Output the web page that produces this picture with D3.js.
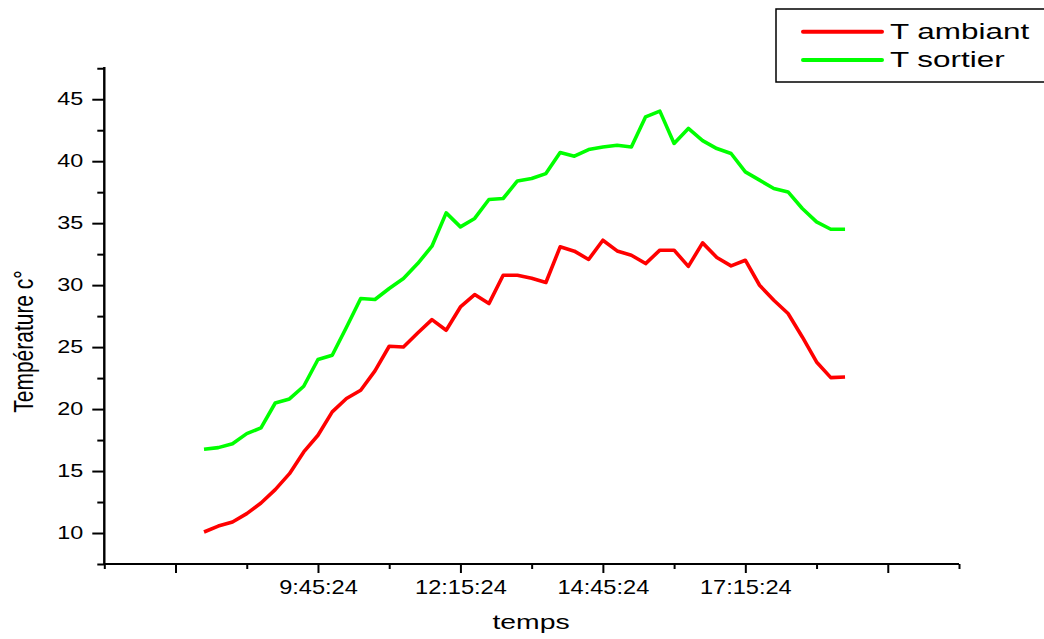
<!DOCTYPE html>
<html>
<head>
<meta charset="utf-8">
<script src="https://cdn.jsdelivr.net/npm/d3@7"></script>
<style>
  html, body { margin: 0; padding: 0; background: #fff; }
  svg { display: block; font-family: "Liberation Sans", Arial, sans-serif; }
</style>
</head>
<body>
<svg id="chart" width="1044" height="639"></svg>
<script>
// ---- data ----
const times = ["7:45:24","8:00:24","8:15:24","8:30:24","8:45:24","9:00:24","9:15:24","9:30:24","9:45:24","10:00:24",
  "10:15:24","10:30:24","10:45:24","11:00:24","11:15:24","11:30:24","11:45:24","12:00:24","12:15:24","12:30:24",
  "12:45:24","13:00:24","13:15:24","13:30:24","13:45:24","14:00:24","14:15:24","14:30:24","14:45:24","15:00:24",
  "15:15:24","15:30:24","15:45:24","16:00:24","16:15:24","16:30:24","16:45:24","17:00:24","17:15:24","17:30:24",
  "17:45:24","18:00:24","18:15:24","18:30:24","18:45:24","19:00:24"];
const tAmbiant = [10.08,10.56,10.89,11.56,12.42,13.5,14.79,16.54,17.89,19.77,
  20.85,21.52,23.08,25.07,25.01,26.14,27.22,26.36,28.24,29.24,
  28.51,30.8,30.8,30.55,30.21,33.09,32.74,32.07,33.62,32.76,
  32.41,31.74,32.82,32.82,31.51,33.41,32.23,31.55,32.01,29.99,
  28.78,27.71,25.82,23.8,22.54,22.59];
const tSortier = [16.76,16.89,17.21,18.02,18.48,20.49,20.82,21.84,24.0,24.34,
  26.6,28.92,28.84,29.73,30.53,31.74,33.14,35.83,34.7,35.38,
  36.91,36.99,38.41,38.6,39.0,40.7,40.4,40.94,41.15,41.29,
  41.15,43.58,44.04,41.43,42.64,41.66,41.02,40.62,39.14,38.47,
  37.8,37.52,36.18,35.1,34.51,34.51];
const xMajorTicks = ["7:15:24","9:45:24","12:15:24","14:45:24","17:15:24","19:45:24"];
const xMinorTicks = ["6:00:24","8:30:24","11:00:24","13:30:24","16:00:24","18:30:24","21:00:24"];
const xDomain = ["6:00:24","21:00:24"];
const yMajorTicks = [10,15,20,25,30,35,40,45];
const yMinorTicks = [7.5,12.5,17.5,22.5,27.5,32.5,37.5,42.5,47.5];
const yDomain = [7.5, 47.6];
const seriesNames = ["T ambiant","T sortier"];
const seriesColors = ["#ff0000","#00ff00"];
const xTitle = "temps";
const yTitle = "Température c°";

// ---- helpers ----
const toMin = s => { const p = s.split(":").map(Number); return p[0]*60 + p[1] + p[2]/60; };

const svg = d3.select("#chart");
const x = d3.scaleLinear().domain(xDomain.map(toMin)).range([104.3, 959]);
const y = d3.scaleLinear().domain(yDomain).range([564, 67]);

const firstT = toMin(times[0]), lastT = toMin(times[times.length-1]);

// ---- x axis ----
const gx = svg.append("g").attr("transform", "translate(0,564)");
gx.append("g").call(d3.axisBottom(x).tickValues(xMinorTicks.map(toMin)).tickSize(5).tickFormat(""));
const xMajorMap = new Map(xMajorTicks.map(s => [toMin(s), s]));
gx.append("g").call(d3.axisBottom(x).tickValues(xMajorTicks.map(toMin)).tickSize(9)
    .tickFormat(v => (v >= firstT && v <= lastT) ? xMajorMap.get(v) : ""));
gx.selectAll(".domain").attr("d", `M${x.range()[0]},0H${x.range()[1]}`);
gx.selectAll("path, line").attr("stroke", "#000").attr("stroke-width", 2);
gx.selectAll("text")
  .attr("font-size", 20).attr("fill", "#000")
  .attr("y", 0).attr("dy", 0)
  .attr("transform", "translate(0,30.3) scale(1.18,1)");

// ---- y axis ----
const gy = svg.append("g").attr("transform", "translate(104.3,0)");
gy.append("g").call(d3.axisLeft(y).tickValues(yMinorTicks).tickSize(7).tickFormat(""));
gy.append("g").call(d3.axisLeft(y).tickValues(yMajorTicks).tickSize(12).tickFormat(d3.format("d")));
gy.selectAll(".domain").attr("d", `M0,${y.range()[0]}V${y.range()[1]}`);
gy.selectAll("path, line").attr("stroke", "#000").attr("stroke-width", 2);
gy.selectAll("text")
  .attr("font-size", 18).attr("fill", "#000")
  .attr("x", 0).attr("dy", "0.32em")
  .attr("transform", "translate(-21,0) scale(1.3,1)");

// ---- axis titles ----
svg.append("text")
  .attr("transform", "translate(531,629) scale(1.35,1)")
  .attr("text-anchor", "middle").attr("font-size", 21).attr("fill", "#000")
  .text(xTitle);
svg.append("text")
  .attr("transform", "translate(33,341.5) scale(1.33,1) rotate(-90)")
  .attr("text-anchor", "middle").attr("font-size", 21).attr("fill", "#000")
  .text(yTitle);

// ---- lines ----
const series = [tAmbiant, tSortier];
const line = d3.line().x((d, i) => x(toMin(times[i]))).y(d => y(d));
series.forEach((vals, k) => {
  svg.append("path")
    .datum(vals)
    .attr("d", line)
    .attr("fill", "none")
    .attr("stroke", seriesColors[k])
    .attr("stroke-width", 3.6)
    .attr("stroke-linejoin", "round");
});

// ---- legend ----
const lg = svg.append("g");
lg.append("rect").attr("x", 776).attr("y", 9).attr("width", 300).attr("height", 73)
  .attr("fill", "#fff").attr("stroke", "#000").attr("stroke-width", 1.5);
const legendRows = [31.7, 60];
seriesNames.forEach((name, k) => {
  lg.append("line").attr("x1", 803).attr("x2", 882).attr("y1", legendRows[k]).attr("y2", legendRows[k])
    .attr("stroke", seriesColors[k]).attr("stroke-width", 4).attr("stroke-linecap", "round");
  lg.append("text")
    .attr("transform", `translate(890,${legendRows[k] + 6.8}) scale(1.43,1)`)
    .attr("font-size", 22).attr("fill", "#000")
    .text(name);
});
</script>
</body>
</html>
